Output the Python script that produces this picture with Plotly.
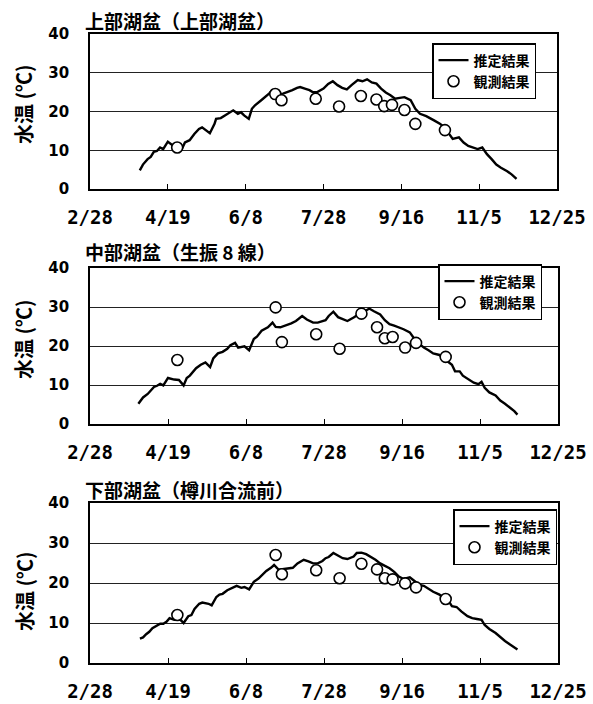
import plotly.graph_objects as go

# x axis: days counted from 2/28
TICK_DAYS = [0, 50, 100, 150, 200, 250, 300]
TICK_LABELS = ["2/28", "4/19", "6/8", "7/28", "9/16", "11/5", "12/25"]
Y_TICKS = [0, 10, 20, 30, 40]

PANEL_TITLES = ["上部湖盆（上部湖盆）", "中部湖盆（生振 8 線）", "下部湖盆（樽川合流前）"]
Y_TITLE = "水温 (℃)"
EST_NAME = "推定結果"
OBS_NAME = "観測結果"

# observation days (shared by all three stations)
OBS_DAYS = [56, 119, 123, 145, 160, 174, 184, 189, 194, 202, 209, 228]

UPPER_OBS = [10.7, 24.5, 22.9, 23.3, 21.3, 24.0, 23.1, 21.4, 21.7, 20.4, 16.8, 15.2]
MIDDLE_OBS = [16.4, 29.9, 21.0, 23.0, 19.3, 28.3, 24.8, 22.0, 22.3, 19.6, 20.8, 17.2]
LOWER_OBS = [12.0, 27.0, 22.2, 23.2, 21.2, 24.8, 23.4, 21.2, 20.9, 19.9, 18.9, 16.0]

# estimated water temperature, upper basin
UPPER_EST_DAYS = [32, 34, 37, 39, 41, 43, 45, 47, 50, 53, 56, 59, 61, 64, 67, 70, 72, 75,
                  77, 80, 81, 84, 87, 90, 92, 95, 97, 99, 102, 104, 106, 110, 112, 115,
                  117, 120, 124, 127, 130, 133, 135, 138, 141, 143, 146, 150, 153, 156,
                  159, 162, 165, 168, 172, 175, 178, 181, 184, 187, 190, 193, 196, 199,
                  202, 206, 209, 212, 216, 221, 225, 228, 231, 233, 237, 240, 243, 246,
                  249, 252, 255, 258, 261, 264, 268, 271, 274]
UPPER_EST = [4.8, 6.3, 7.7, 8.3, 9.6, 9.8, 10.7, 10.3, 12.2, 11.3, 11.0, 10.3, 12.0, 12.6,
             14.2, 15.5, 15.9, 15.0, 14.4, 16.8, 18.1, 18.3, 19.0, 19.8, 20.3, 19.4, 19.8,
             19.0, 18.1, 20.7, 21.6, 22.9, 23.5, 24.6, 25.5, 24.3, 24.6, 25.0, 25.5, 26.1,
             26.3, 25.9, 25.5, 25.0, 25.0, 25.9, 27.1, 27.8, 26.8, 26.1, 25.7, 26.8, 28.1,
             27.8, 28.3, 27.5, 27.2, 25.9, 24.9, 24.2, 23.3, 23.5, 23.7, 22.9, 20.7, 19.4,
             18.8, 17.7, 16.8, 15.7, 14.2, 12.9, 13.3, 12.0, 11.1, 10.7, 10.3, 10.7, 9.0,
             7.7, 6.3, 5.5, 4.6, 3.7, 2.6]

# estimated water temperature, middle basin
MIDDLE_EST_DAYS = [31, 34, 37, 39, 41, 43, 45, 47, 50, 54, 57, 60, 62, 64, 68, 71, 74, 77,
                   79, 82, 85, 88, 90, 93, 95, 99, 102, 105, 107, 110, 114, 117, 119, 122,
                   125, 129, 132, 136, 139, 143, 146, 148, 151, 153, 156, 159, 162, 165,
                   169, 172, 175, 177, 179, 182, 186, 189, 192, 195, 198, 201, 205, 208,
                   211, 214, 217, 220, 224, 227, 230, 232, 234, 237, 239, 243, 246, 249,
                   251, 253, 256, 260, 263, 266, 269, 272, 274]
MIDDLE_EST = [5.2, 6.8, 7.7, 8.5, 9.5, 9.8, 10.3, 9.9, 11.8, 11.4, 11.3, 9.9, 11.8, 12.4,
              14.3, 15.2, 15.8, 14.6, 16.8, 18.1, 18.5, 19.3, 20.2, 20.8, 19.6, 19.9, 18.9,
              21.8, 22.4, 23.9, 24.8, 26.0, 24.9, 24.8, 25.2, 25.8, 26.4, 27.7, 26.8, 26.0,
              26.0, 26.2, 26.6, 27.7, 28.8, 27.4, 26.8, 26.4, 27.3, 28.1, 28.8, 29.1, 29.6,
              28.9, 28.1, 26.6, 25.6, 25.2, 24.8, 24.3, 23.5, 21.8, 20.6, 19.6, 18.9, 18.1,
              17.7, 16.8, 16.0, 15.2, 13.5, 13.5, 12.4, 11.4, 10.6, 10.2, 10.8, 9.3, 8.1,
              7.3, 6.0, 5.2, 4.3, 3.3, 2.4]

# estimated water temperature, lower basin
LOWER_EST_DAYS = [32, 34, 36, 38, 40, 43, 45, 47, 49, 51, 54, 58, 60, 63, 65, 67, 70, 72,
                  76, 78, 81, 83, 85, 88, 91, 94, 97, 99, 102, 105, 108, 111, 113, 116,
                  118, 121, 124, 127, 130, 133, 137, 140, 143, 146, 149, 151, 153, 156,
                  159, 162, 165, 169, 171, 174, 177, 180, 183, 186, 189, 192, 195, 198,
                  201, 205, 208, 211, 214, 217, 220, 224, 227, 230, 232, 235, 238, 242,
                  245, 248, 251, 253, 256, 260, 263, 266, 269, 272, 274]
LOWER_EST = [6.1, 6.4, 7.2, 7.8, 8.7, 9.3, 9.8, 9.8, 10.3, 11.2, 10.8, 10.8, 10.0, 11.7,
             12.0, 13.5, 14.8, 15.1, 14.8, 14.4, 16.5, 17.1, 17.3, 18.2, 18.8, 19.3, 18.8,
             19.0, 18.4, 20.3, 21.1, 22.4, 23.0, 23.8, 24.5, 23.3, 23.5, 23.7, 23.8, 24.9,
             25.8, 25.4, 24.9, 24.9, 25.5, 26.2, 26.5, 27.5, 26.9, 26.2, 26.0, 26.6, 27.5,
             27.6, 27.2, 26.6, 25.8, 24.9, 24.3, 23.7, 22.8, 21.6, 21.0, 21.4, 20.5, 19.5,
             19.3, 18.6, 17.8, 17.1, 16.1, 15.4, 14.2, 14.0, 12.9, 11.7, 11.2, 11.0, 10.8,
             9.5, 8.5, 7.5, 6.4, 5.5, 4.7, 3.8, 3.4]

PANELS = [
    (UPPER_EST_DAYS, UPPER_EST, UPPER_OBS),
    (MIDDLE_EST_DAYS, MIDDLE_EST, MIDDLE_OBS),
    (LOWER_EST_DAYS, LOWER_EST, LOWER_OBS),
]

W, H = 593, 704
# pixel boxes of the three plot areas: (left, right, top, bottom)
BOXES = [(90, 557, 34, 189), (90, 558, 268, 424), (90, 558, 503, 663)]
TITLE_Y = [21, 252, 489]
YTITLE_Y = [104, 339, 591]
# legend box anchors (right, top) in pixels
LEGEND_POS = [(536, 43), (542, 264), (557, 509)]

NUM_FONT = "DejaVu Sans"
MONO_FONT = "DejaVu Sans Mono"
CJK_FONT = "Noto Sans CJK JP"

fig = go.Figure()
layout = dict(
    width=W, height=H,
    margin=dict(l=0, r=0, t=0, b=0, autoexpand=False),
    paper_bgcolor="white", plot_bgcolor="white",
    annotations=[],
)

for i, (est_days, est_vals, obs_vals) in enumerate(PANELS):
    n = "" if i == 0 else str(i + 1)
    xa, ya = "x" + n, "y" + n
    leg = "legend" + n
    fig.add_trace(go.Scatter(
        x=est_days, y=est_vals, mode="lines", name=EST_NAME,
        line=dict(color="black", width=2.4),
        xaxis=xa, yaxis=ya, legend=leg,
    ))
    fig.add_trace(go.Scatter(
        x=OBS_DAYS, y=obs_vals, mode="markers", name=OBS_NAME,
        marker=dict(symbol="circle", size=11, color="white",
                    line=dict(color="black", width=1.6)),
        xaxis=xa, yaxis=ya, legend=leg,
    ))

    left, right, top, bottom = BOXES[i]
    layout["xaxis" + n] = dict(
        domain=[left / W, right / W], anchor=ya, range=[0, 300],
        tickmode="array", tickvals=TICK_DAYS, ticktext=TICK_LABELS,
        ticks="inside", ticklen=5, tickwidth=1, tickcolor="black",
        showgrid=False, zeroline=False, automargin=False,
        showline=True, mirror=True, linecolor="black", linewidth=1.8,
        tickfont=dict(family=MONO_FONT, size=19, color="black", weight="bold"),
        ticklabelstandoff=10,
    )
    layout["yaxis" + n] = dict(
        domain=[1 - bottom / H, 1 - top / H], anchor=xa, range=[0, 40],
        tickmode="array", tickvals=Y_TICKS,
        ticks="", showgrid=True, gridcolor="#222", gridwidth=1,
        zeroline=False, automargin=False,
        showline=True, mirror=True, linecolor="black", linewidth=1.8,
        tickfont=dict(family=NUM_FONT, size=15, color="black", weight="bold"),
        ticklabelstandoff=16,
    )
    rx, ty = LEGEND_POS[i]
    layout[leg] = dict(
        x=rx / W, y=1 - ty / H, xanchor="right", yanchor="top",
        xref="paper", yref="paper",
        bgcolor="white", bordercolor="black", borderwidth=1.5,
        font=dict(family=CJK_FONT, size=14, color="black", weight="bold"),
        itemwidth=30, tracegroupgap=0,
    )
    layout["annotations"].append(dict(
        text=PANEL_TITLES[i], xref="paper", yref="paper",
        x=83 / W, y=1 - TITLE_Y[i] / H, xanchor="left", yanchor="middle",
        showarrow=False,
        font=dict(family=CJK_FONT, size=19, color="black", weight="bold"),
    ))
    layout["annotations"].append(dict(
        text=Y_TITLE, xref="paper", yref="paper", textangle=-90,
        x=24 / W, y=1 - YTITLE_Y[i] / H, xanchor="center", yanchor="middle",
        showarrow=False,
        font=dict(family=CJK_FONT, size=20, color="black", weight="bold"),
    ))

fig.update_layout(**layout)
fig.write_html("out.html")
